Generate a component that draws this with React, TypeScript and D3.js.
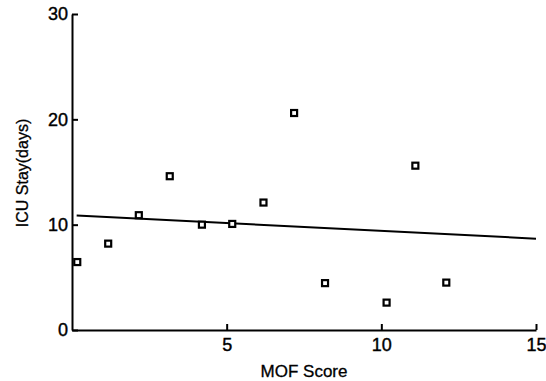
import React, { useEffect, useRef } from "react";
import * as d3 from "d3";

// MOF score vs ICU stay
const mofScore = [0.17, 1.17, 2.16, 3.16, 4.2, 5.18, 6.19, 7.18, 8.18, 10.17, 11.1, 12.1];
const icuStay = [6.45, 8.2, 10.9, 14.6, 10.0, 10.07, 12.1, 20.6, 4.45, 2.6, 15.6, 4.5];

// regression line end points
const fitX = [0.15, 15];
const fitY = [10.86, 8.67];

const xTicks = [5, 10, 15];
const yTicks = [0, 10, 20, 30];

export default function App() {
  const chartRef = useRef<SVGSVGElement>(null);

  useEffect(() => {
    const width = 546;
    const height = 381;
    const margin = { top: 14, right: 10, bottom: 51, left: 72 };
    const svg = d3.select(chartRef.current);
    svg.selectAll("*").remove();

    const xScale = d3.scaleLinear().domain([0, 15]).range([margin.left, width - margin.right]);
    const yScale = d3.scaleLinear().domain([0, 30]).range([height - margin.bottom, margin.top]);

    const font = "'Liberation Sans', Arial, sans-serif";

    // X axis
    const gx = svg
      .append("g")
      .attr("transform", `translate(0,${height - margin.bottom})`)
      .call(d3.axisBottom(xScale).tickValues(xTicks).tickSize(-6).tickSizeOuter(0).tickPadding(8));
    gx.select(".domain").attr("stroke", "#000").attr("stroke-width", 2);
    gx.selectAll(".tick line").attr("stroke", "#000").attr("stroke-width", 2);
    gx.selectAll(".tick text")
      .attr("fill", "#000")
      .attr("stroke", "#000")
      .attr("stroke-width", 0.4)
      .style("font-family", font)
      .style("font-size", "18px");

    // Y axis
    const gy = svg
      .append("g")
      .attr("transform", `translate(${margin.left},0)`)
      .call(d3.axisLeft(yScale).tickValues(yTicks).tickSize(-6).tickSizeOuter(0).tickPadding(4));
    gy.select(".domain").attr("stroke", "#000").attr("stroke-width", 2);
    gy.selectAll(".tick line").attr("stroke", "#000").attr("stroke-width", 2);
    gy.selectAll(".tick text")
      .attr("fill", "#000")
      .attr("stroke", "#000")
      .attr("stroke-width", 0.4)
      .style("font-family", font)
      .style("font-size", "18px");

    // regression line
    svg
      .append("line")
      .attr("x1", xScale(fitX[0]))
      .attr("y1", yScale(fitY[0]))
      .attr("x2", xScale(fitX[1]))
      .attr("y2", yScale(fitY[1]))
      .attr("stroke", "#000")
      .attr("stroke-width", 2);

    // points
    const s = 6;
    svg
      .selectAll("rect.pt")
      .data(mofScore.map((d, i) => [d, icuStay[i]]))
      .enter()
      .append("rect")
      .attr("class", "pt")
      .attr("x", (d) => xScale(d[0]) - s / 2)
      .attr("y", (d) => yScale(d[1]) - s / 2)
      .attr("width", s)
      .attr("height", s)
      .attr("fill", "#fff")
      .attr("stroke", "#000")
      .attr("stroke-width", 2.2);

    // axis titles
    svg
      .append("text")
      .attr("x", (margin.left + width - margin.right) / 2)
      .attr("y", 377)
      .attr("text-anchor", "middle")
      .attr("stroke", "#000")
      .attr("stroke-width", 0.3)
      .style("font-family", font)
      .style("font-size", "17px")
      .text("MOF Score");

    svg
      .append("text")
      .attr("transform", `translate(28,173) rotate(-90)`)
      .attr("text-anchor", "middle")
      .attr("stroke", "#000")
      .attr("stroke-width", 0.3)
      .style("font-family", font)
      .style("font-size", "16px")
      .text("ICU Stay(days)");
  }, []);

  return (
    <div>
      <svg
        ref={chartRef}
        width={546}
        height={381}
        style={{ position: "absolute", left: 0, top: 0, background: "#fff" }}
      ></svg>
    </div>
  );
}
